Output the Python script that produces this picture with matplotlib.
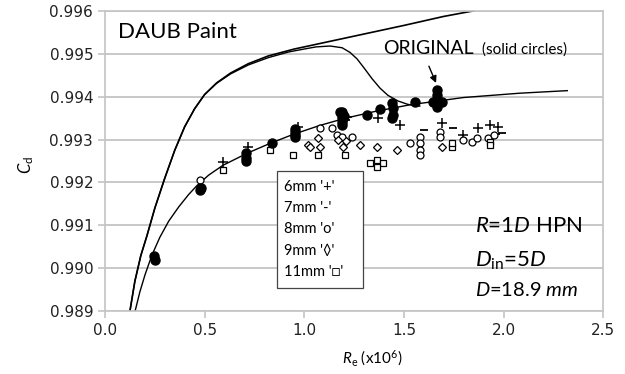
import matplotlib
matplotlib.use('Agg')
import matplotlib.pyplot as plt
from matplotlib.patches import Rectangle

# ── Curves ────────────────────────────────────────────────────────────────────
steep_x = [0.125, 0.15, 0.18, 0.21, 0.25, 0.30, 0.35, 0.40, 0.45, 0.50, 0.56, 0.63, 0.72, 0.82,
           0.95, 1.10, 1.30, 1.50, 1.70, 1.85]
steep_y = [0.98900, 0.98970, 0.99030, 0.99075, 0.99140, 0.99210, 0.99275, 0.99330, 0.99372, 0.99405,
           0.99432, 0.99455, 0.99477, 0.99495, 0.99511, 0.99526, 0.99546, 0.99566, 0.99587, 0.99600]

hump_x = [0.125, 0.15, 0.18, 0.21, 0.25, 0.30, 0.35, 0.40, 0.45, 0.50, 0.56, 0.63, 0.72, 0.82,
          0.92, 1.00, 1.06, 1.13, 1.19, 1.23, 1.265, 1.30, 1.34, 1.38, 1.42, 1.47, 1.52, 1.58]
hump_y = [0.98900, 0.98970, 0.99030, 0.99075, 0.99140, 0.99210, 0.99275, 0.99330, 0.99372, 0.99405,
          0.99431, 0.99453, 0.99474, 0.99491, 0.99504, 0.99511, 0.99516, 0.99518, 0.99514, 0.99503,
          0.99488, 0.99467, 0.99442, 0.99420, 0.99403, 0.99390, 0.99382, 0.99378]

fit_x = [0.151, 0.175, 0.201, 0.235, 0.275, 0.32, 0.37, 0.42, 0.462, 0.52, 0.592, 0.713, 0.828,
         0.944, 1.079, 1.2, 1.35, 1.53, 1.8, 2.08, 2.32]
fit_y = [0.98900, 0.98945, 0.98985, 0.99030, 0.99072, 0.99110, 0.99143, 0.99172, 0.99193, 0.99217,
         0.99240, 0.99268, 0.99291, 0.99312, 0.99333, 0.99349, 0.99365, 0.99381, 0.99398, 0.99408,
         0.99414]

# ── Measured points ───────────────────────────────────────────────────────────
orig_x = [0.246, 0.25, 0.477, 0.48, 0.71, 0.71, 0.71, 0.838, 0.955, 0.955, 0.955, 0.955,
          1.19, 1.19, 1.19, 1.19, 1.19, 1.20, 1.18, 1.315, 1.38, 1.44, 1.446, 1.446, 1.44,
          1.556, 1.665, 1.665, 1.665, 1.665, 1.665, 1.69, 1.645]
orig_y = [0.99028, 0.99019, 0.99182, 0.99188, 0.99268, 0.99258, 0.99250, 0.99292, 0.99325, 0.99318,
          0.99310, 0.99305, 0.99365, 0.99357, 0.99350, 0.99342, 0.99335, 0.99355, 0.99364, 0.99358,
          0.99371, 0.99385, 0.99374, 0.99357, 0.99350, 0.99388, 0.99415, 0.99405, 0.99395, 0.99385,
          0.99375, 0.99388, 0.99388]

mm6_x = [0.592, 0.718, 0.97, 1.215, 1.37, 1.48, 1.692, 1.797, 1.872, 1.933, 1.973]
mm6_y = [0.99248, 0.99283, 0.99330, 0.99353, 0.99350, 0.99334, 0.99339, 0.99311, 0.99327, 0.99334, 0.99329]

mm7_x = [1.21, 1.60, 1.745, 1.96, 1.99]
mm7_y = [0.99345, 0.99322, 0.99327, 0.99312, 0.99316]

mm8_x = [0.475, 1.079, 1.14, 1.165, 1.19, 1.24, 1.531, 1.581, 1.581, 1.58, 1.58, 1.682, 1.682,
         1.797, 1.842, 1.867, 1.923, 1.95]
mm8_y = [0.99205, 0.99327, 0.99327, 0.99311, 0.99306, 0.99306, 0.99292, 0.99306, 0.99293, 0.99275,
         0.99265, 0.99318, 0.99306, 0.99299, 0.99294, 0.99304, 0.99304, 0.99310]

mm9_x = [1.019, 1.069, 1.08, 1.03, 1.17, 1.21, 1.195, 1.28, 1.365, 1.466, 1.692]
mm9_y = [0.99287, 0.99303, 0.99283, 0.99283, 0.99300, 0.99296, 0.99283, 0.99287, 0.99283, 0.99276, 0.99283]

mm11_x = [0.592, 0.828, 0.944, 1.069, 1.205, 1.33, 1.365, 1.395, 1.365, 1.742, 1.742, 1.933, 1.933]
mm11_y = [0.99229, 0.99276, 0.99264, 0.99264, 0.99264, 0.99245, 0.99253, 0.99245, 0.99236, 0.99283,
          0.99293, 0.99294, 0.99287]

legend_lines = ["6mm '+'", "7mm '-'", "8mm 'o'", "9mm '\u25CA'", "11mm '\u25A1'"]
x_ticks = [0.0, 0.5, 1.0, 1.5, 2.0, 2.5]
y_ticks = [0.989, 0.990, 0.991, 0.992, 0.993, 0.994, 0.995, 0.996]

plt.rcParams['mathtext.fontset'] = 'custom'
plt.rcParams['mathtext.rm'] = 'Lato'
plt.rcParams['mathtext.it'] = 'Lato:italic'
FAM = ['Lato', 'DejaVu Sans']

fig = plt.figure(figsize=(6.25, 3.74), dpi=100)
ax = fig.add_axes([0.168, 0.168, 0.797, 0.803])

grid_c = '#c4c4c4'
for yv in y_ticks:
    ax.axhline(yv, color=grid_c, lw=1.3, zorder=0)

ax.plot(steep_x, steep_y, color='k', lw=1.2, zorder=2)
ax.plot(hump_x, hump_y, color='k', lw=1.0, zorder=2)
ax.plot(fit_x, fit_y, color='k', lw=1.0, zorder=2)

ax.plot(orig_x, orig_y, 'o', ms=6.5, color='k', zorder=4)
ax.plot(mm6_x, mm6_y, '+', ms=7, mew=1.1, color='k', zorder=3)
ax.plot(mm7_x, mm7_y, '_', ms=6, mew=1.3, color='k', zorder=3)
ax.plot(mm8_x, mm8_y, 'o', ms=5, mfc='white', mec='k', mew=0.9, zorder=3)
ax.plot(mm9_x, mm9_y, 'D', ms=4.2, mfc='white', mec='k', mew=0.9, zorder=3)
ax.plot(mm11_x, mm11_y, 's', ms=5, mfc='white', mec='k', mew=0.9, zorder=3)

ax.set_xlim(0, 2.5)
ax.set_ylim(0.989, 0.996)
ax.set_xticks(x_ticks)
ax.set_xticklabels([f"{v:.1f}" for v in x_ticks], fontsize=11)
ax.set_yticks(y_ticks)
ax.set_yticklabels([f"{v:.3f}" for v in y_ticks], fontsize=11)
for s in ax.spines.values():
    s.set_color(grid_c)
    s.set_linewidth(1.2)
ax.tick_params(colors=grid_c, length=5, width=1.2, labelcolor='#222222')

# legend box
ax.add_patch(Rectangle((0.345, 0.077), 0.173, 0.39, transform=ax.transAxes,
                       facecolor='white', edgecolor='#444444', lw=0.9, zorder=5))
for i, lab in enumerate(legend_lines):
    ax.text(0.359, 0.413 - i * 0.0705, lab, transform=ax.transAxes, fontsize=10.5,
            family=FAM, va='center', ha='left', zorder=6)

ax.text(0.026, 0.93, 'DAUB Paint', transform=ax.transAxes, fontsize=16, family=FAM, va='center')
ax.text(0.558, 0.857, 'ORIGINAL', transform=ax.transAxes, fontsize=14, family=FAM, va='baseline')
ax.text(0.757, 0.857, '(solid circles)', transform=ax.transAxes, fontsize=11, family=FAM, va='baseline')
ax.annotate('', xy=(1.667, 0.99426), xytext=(1.62, 0.99477),
            arrowprops=dict(arrowstyle='-|>', color='k', lw=1.0, mutation_scale=10))

ax.text(0.743, 0.283, '$R$=1$D$ HPN', transform=ax.transAxes, fontsize=16, family=FAM, va='center')
ax.text(0.743, 0.167, '$D$$_{\\mathrm{in}}$=5$D$', transform=ax.transAxes, fontsize=16, family=FAM, va='center')
ax.text(0.743, 0.07, '$D$=18.9 $mm$', transform=ax.transAxes, fontsize=14.5, family=FAM, va='center')

fig.text(372 / 625, 1 - 358 / 374, '$R$$_\\mathrm{e}$ (x10$^6$)', fontsize=11, family=FAM,
         ha='center', va='center')
fig.text(26 / 625, 1 - 165 / 374, '$C$$_\\mathrm{d}$', fontsize=12, family=FAM,
         ha='center', va='center', rotation=90)

fig.savefig('out.png', dpi=100)
